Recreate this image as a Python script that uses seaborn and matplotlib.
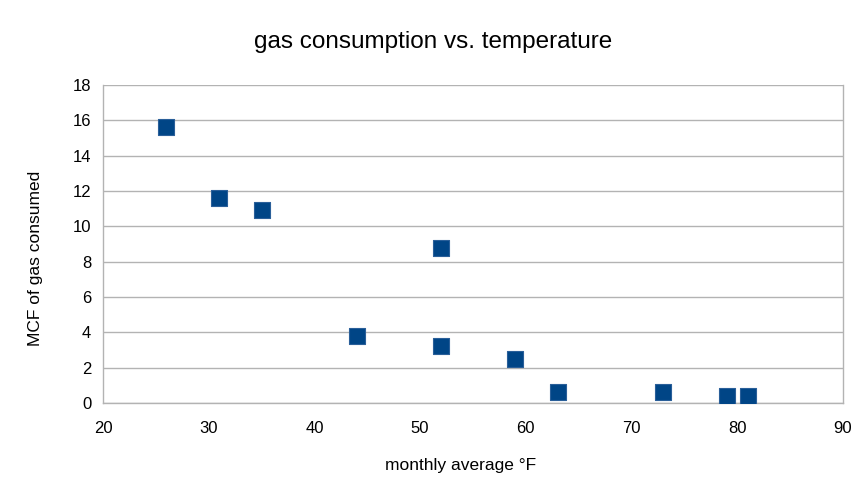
import matplotlib
matplotlib.use("Agg")
import matplotlib.pyplot as plt
import seaborn as sns
import pandas as pd

temperatura = [26, 31, 35, 44, 52, 52, 59, 63, 73, 79, 81]
consumo = [15.6, 11.6, 10.9, 3.8, 8.8, 3.2, 2.5, 0.6, 0.6, 0.4, 0.4]
x_ticks = [20, 30, 40, 50, 60, 70, 80, 90]
y_ticks = [0, 2, 4, 6, 8, 10, 12, 14, 16, 18]

dados = pd.DataFrame({"temp": temperatura, "mcf": consumo})

sns.set_style("white")
plt.rcParams["font.family"] = ["Liberation Sans", "DejaVu Sans"]
plt.rcParams["text.color"] = "black"

fig = plt.figure(figsize=(8.58, 4.86), dpi=100)
ax = fig.add_axes([0.120, 0.171, 0.8625, 0.654])

sns.scatterplot(data=dados, x="temp", y="mcf", marker="s", s=120,
                color="#004586", edgecolor="#2a5f99", linewidth=0.8, ax=ax, zorder=3)

ax.set_xlim(20, 90)
ax.set_ylim(0, 18)
ax.set_xticks(x_ticks)
ax.set_yticks(y_ticks)
ax.grid(True, axis="y", color="#b3b3b3", linewidth=1)
ax.set_axisbelow(True)
for lado in ["left", "bottom", "right"]:
    ax.spines[lado].set_color("#b3b3b3")
    ax.spines[lado].set_linewidth(1)
ax.spines["top"].set_visible(False)
ax.tick_params(axis="both", direction="out", length=5, color="#b3b3b3",
               labelsize=12, labelcolor="black")
ax.tick_params(axis="x", pad=8)
ax.set_xlabel("")
ax.set_ylabel("")

# titulo e rotulos posicionados na figura
fig.text(0.505, 0.914, "gas consumption vs. temperature", fontsize=17.5,
         ha="center", va="center")
fig.text(0.537, 0.043, "monthly average °F", fontsize=12.5,
         ha="center", va="center")
fig.text(0.041, 0.469, "MCF of gas consumed", fontsize=12.5,
         ha="center", va="center", rotation=90)

fig.savefig("out.png", dpi=100)
